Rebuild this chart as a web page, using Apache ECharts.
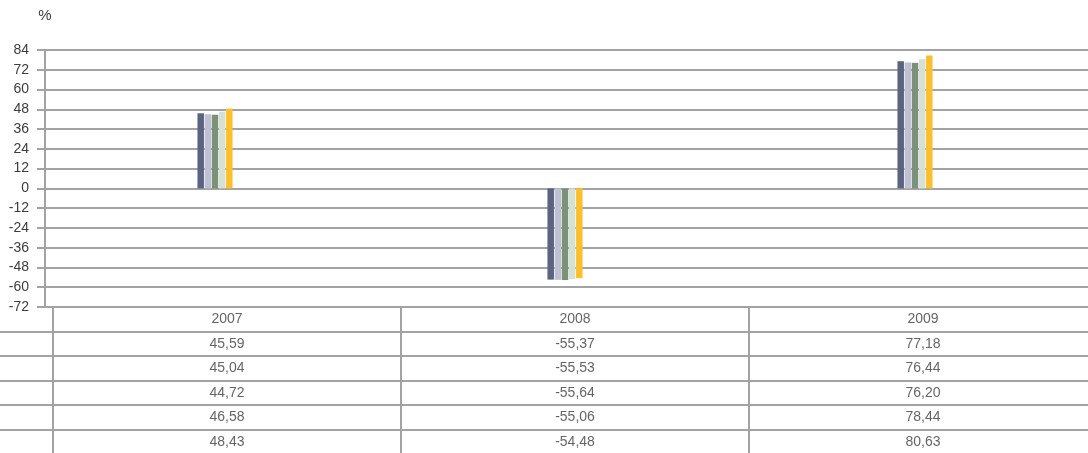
<!DOCTYPE html>
<html>
<head>
<meta charset="utf-8">
<script src="https://cdn.jsdelivr.net/npm/echarts@6/dist/echarts.min.js"></script>
<style>
  html, body { margin: 0; padding: 0; background: #fff; }
  #chart { width: 1088px; height: 453px; }
</style>
</head>
<body>
<div id="chart"></div>
<script>
// data
const years = ['2007', '2008', '2009']
const serie1 = [45.59, -55.37, 77.18]
const serie2 = [45.04, -55.53, 76.44]
const serie3 = [44.72, -55.64, 76.20]
const serie4 = [46.58, -55.06, 78.44]
const serie5 = [48.43, -54.48, 80.63]
const yTicks = { min: -72, max: 84, step: 12 }

const allSeries = [serie1, serie2, serie3, serie4, serie5]
const colors = ['#5a6480', '#bfc0d3', '#7b917a', '#d6e0d3', '#fdbf2b']
const lineColor = '#a3a3a3'
const textColor = '#3c3c3c'
const font = 'Liberation Sans, Arial, sans-serif'

const fmt = v => v.toFixed(2).replace('.', ',')

// table cells: header row = years, then one row per series
const rows = ['h', 'r1', 'r2', 'r3', 'r4', 'r5']
let cells = []
years.forEach((y, i) => {
  cells.push([i, 0, y])
  allSeries.forEach((s, j) => {
    cells.push([i, j + 1, fmt(s[i])])
  })
})

const myChart = echarts.init(document.getElementById('chart'))

let barSeries = allSeries.map((s, i) => ({
  name: 'S' + (i + 1),
  type: 'bar',
  xAxisIndex: 0,
  yAxisIndex: 0,
  data: s,
  barWidth: 6.5,
  barGap: '10%',
  itemStyle: { color: colors[i] },
  silent: true
}))

myChart.setOption({
  animation: false,
  textStyle: { fontFamily: font },
  grid: [
    // bars
    { left: 40, width: 1050, top: 50, height: 257, outerBoundsMode: 'none' },
    // table
    { left: 53, width: 1044, top: 307, height: 147, outerBoundsMode: 'none' },
    // left stub of the table rows
    { left: 0, width: 53, top: 331.5, height: 122.5, outerBoundsMode: 'none' }
  ],
  xAxis: [{
    gridIndex: 0,
    type: 'category',
    data: years,
    axisLine: { show: false },
    axisTick: { show: false },
    axisLabel: { show: false }
  }, {
    gridIndex: 1,
    type: 'category',
    data: years,
    axisLine: { show: false },
    axisTick: { show: false },
    axisLabel: { show: false },
    splitLine: { show: true, lineStyle: { color: lineColor, width: 2 } }
  }, {
    gridIndex: 2,
    type: 'category',
    data: [''],
    show: false
  }],
  yAxis: [{
    gridIndex: 0,
    type: 'value',
    min: yTicks.min,
    max: yTicks.max,
    interval: yTicks.step,
    offset: -5,
    name: '%',
    nameGap: 27,
    nameTextStyle: { color: textColor, fontSize: 15, fontFamily: font },
    axisLine: { show: true, lineStyle: { color: lineColor, width: 2 } },
    axisTick: { show: true, length: 8, lineStyle: { color: lineColor, width: 2 } },
    axisLabel: { color: textColor, fontSize: 14, margin: 16, fontFamily: font },
    splitLine: { show: true, lineStyle: { color: lineColor, width: 2 } }
  }, {
    gridIndex: 1,
    type: 'category',
    data: rows,
    inverse: true,
    axisLine: { show: true, lineStyle: { color: lineColor, width: 2 } },
    axisTick: { show: false },
    axisLabel: { show: false },
    splitLine: { show: true, lineStyle: { color: lineColor, width: 2 } }
  }, {
    gridIndex: 2,
    type: 'category',
    data: rows.slice(1),
    inverse: true,
    axisLine: { show: false },
    axisTick: { show: false },
    axisLabel: { show: false },
    splitLine: { show: true, lineStyle: { color: lineColor, width: 2 } }
  }],
  series: barSeries.concat([{
    type: 'scatter',
    xAxisIndex: 1,
    yAxisIndex: 1,
    data: cells,
    symbolSize: 1,
    silent: true,
    itemStyle: { color: 'rgba(0,0,0,0)' },
    label: {
      show: true,
      position: 'inside',
      color: textColor,
      fontSize: 14,
      fontFamily: font,
      formatter: p => p.value[2]
    }
  }])
})
</script>
</body>
</html>
